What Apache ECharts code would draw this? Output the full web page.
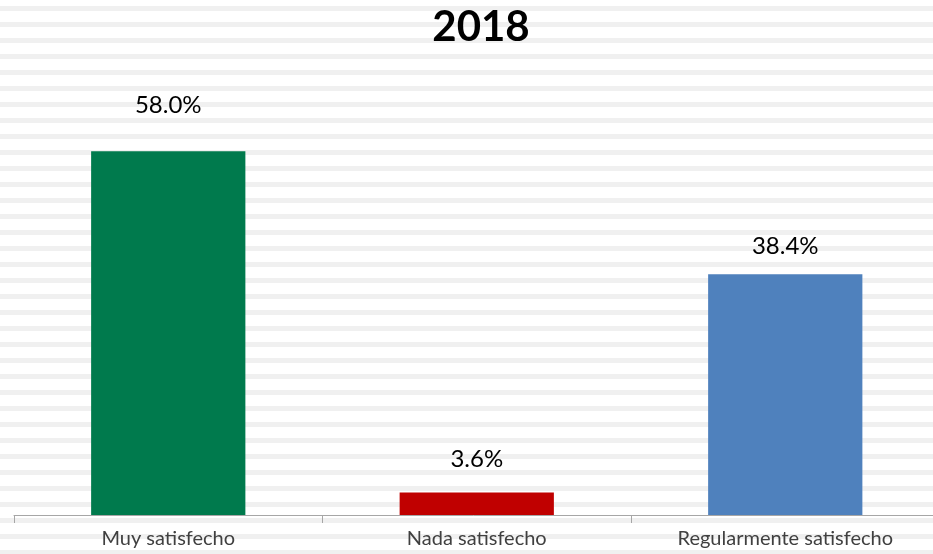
<!DOCTYPE html>
<html>
<head>
<meta charset="utf-8">
<script src="https://cdn.jsdelivr.net/npm/echarts@6/dist/echarts.min.js"></script>
<style>
  html, body { margin: 0; padding: 0; background: #fff; }
  #chart { width: 933px; height: 554px; }
</style>
</head>
<body>
<div id="chart"></div>
<script>
// chart data
const titleText = '2018';
const categories = ['Muy satisfecho', 'Nada satisfecho', 'Regularmente satisfecho'];
const values = [58.0, 3.6, 38.4];
const barColors = ['#007A4D', '#C00000', '#4F81BD'];
const labelGaps = [34, 21, 16];

// striped background, like the excel plot area fill
function makeStripes() {
    const c = document.createElement('canvas');
    c.width = 4;
    c.height = 16;
    const ctx = c.getContext('2d');
    ctx.fillStyle = '#ffffff';
    ctx.fillRect(0, 0, 4, 16);
    ctx.fillStyle = '#f0f0f0';
    ctx.fillRect(0, 6, 4, 5);
    return c;
}

const chart = echarts.init(document.getElementById('chart'), null, { renderer: 'canvas' });

chart.setOption({
    animation: false,
    backgroundColor: { image: makeStripes(), repeat: 'repeat' },
    title: {
        text: titleText,
        left: 476,
        top: 1,
        textAlign: 'center',
        textStyle: { fontFamily: 'Lato', fontWeight: 'bold', fontSize: 42, color: '#000' }
    },
    // grid runs a little past the right edge, as in the cropped original
    grid: { left: 14, width: 925.5, top: 76, bottom: 39, containLabel: false, outerBoundsMode: 'none' },
    xAxis: {
        type: 'category',
        data: categories,
        axisLine: { lineStyle: { color: '#a6a6a6', width: 1 } },
        axisTick: { show: true, length: 8, lineStyle: { color: '#a6a6a6' } },
        axisLabel: { fontFamily: 'Lato', fontSize: 20, color: '#404040', margin: 14 }
    },
    yAxis: {
        type: 'value',
        min: 0,
        max: 70,
        show: false,
        splitLine: { show: false }
    },
    series: [{
        type: 'bar',
        barWidth: '50%',
        data: values.map((v, i) => ({
            value: v,
            itemStyle: { color: barColors[i] },
            label: { distance: labelGaps[i] }
        })),
        label: {
            show: true,
            position: 'top',
            fontFamily: 'Lato',
            fontSize: 24,
            color: '#000',
            formatter: p => p.value.toFixed(1) + '%'
        }
    }]
});
</script>
</body>
</html>
